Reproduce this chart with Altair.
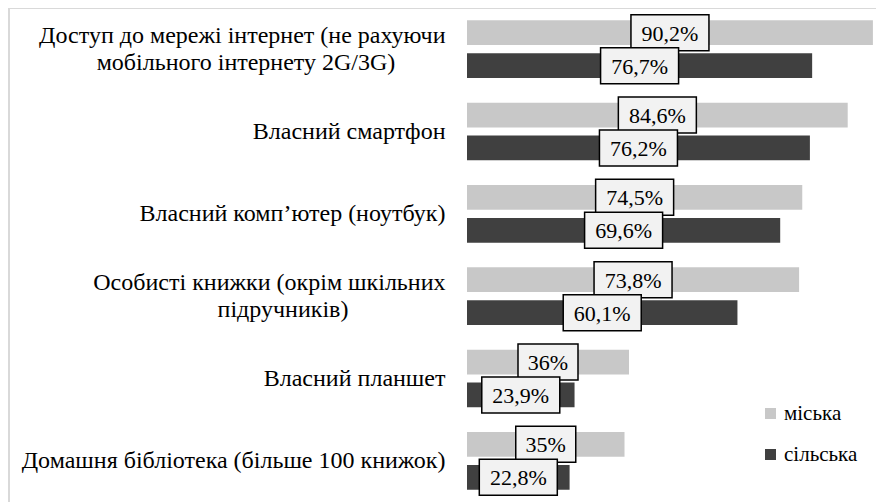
import altair as alt
import pandas as pd

categories = [
    ["Доступ до мережі інтернет (не рахуючи", "мобільного інтернету 2G/3G)"],
    ["Власний смартфон"],
    ["Власний комп’ютер (ноутбук)"],
    ["Особисті книжки (окрім шкільних", "підручників)"],
    ["Власний планшет"],
    ["Домашня бібліотека (більше 100 книжок)"],
]
series = ["міська", "сільська"]
urban = [90.2, 84.6, 74.5, 73.8, 36.0, 35.0]
rural = [76.7, 76.2, 69.6, 60.1, 23.9, 22.8]
urban_labels = ["90,2%", "84,6%", "74,5%", "73,8%", "36%", "35%"]
rural_labels = ["76,7%", "76,2%", "69,6%", "60,1%", "23,9%", "22,8%"]

# horizontal centre (px, relative to the plot's left edge) of wrapped second lines
line2_center = {0: -221, 3: -184}

display = [l[0] for l in categories]

rows = []
for i, cat in enumerate(display):
    for s, vals, labs in ((series[0], urban, urban_labels), (series[1], rural, rural_labels)):
        rows.append({
            "cat": cat,
            "series": s,
            "value": vals[i],
            "half": vals[i] / 2,
            "label": labs[i],
            "box": "long" if len(labs[i]) > 3 else "short",
        })
df = pd.DataFrame(rows)

two_line = [i for i, l in enumerate(categories) if len(l) > 1]
l2_df = pd.DataFrame({
    "cat": [display[i] for i in two_line],
    "line2": [categories[i][1] for i in two_line],
    "xc": [line2_center[i] for i in two_line],
})
two_line_cats = [display[i] for i in two_line]

W, H = 409, 494
PX_PER_UNIT = 4.5
x_scale = alt.Scale(domain=[0, W / PX_PER_UNIT], nice=False, zero=True)
FONT = "Liberation Serif"
CAT_FS = 24
LINE_H = 27

test_expr = " || ".join("datum.value === " + repr(c) for c in two_line_cats)

y_enc = alt.Y(
    "cat:N",
    sort=display,
    scale=alt.Scale(domain=display, paddingInner=0.3, paddingOuter=0.15),
    axis=alt.Axis(
        title=None, domain=False, ticks=False, grid=False,
        labelFont=FONT, labelFontSize=CAT_FS, labelColor="black",
        labelPadding=22, labelLimit=800,
        labelOffset={"condition": {"test": test_expr, "value": -LINE_H / 2}, "value": 0},
    ),
)
yoff = alt.YOffset("series:N", sort=series, scale=alt.Scale(paddingInner=0.25, paddingOuter=0))

base = alt.Chart(df)

bars = base.mark_bar().encode(
    x=alt.X("value:Q", scale=x_scale, axis=None),
    y=y_enc,
    yOffset=yoff,
    color=alt.Color(
        "series:N",
        scale=alt.Scale(domain=series, range=["#c8c8c8", "#404040"]),
        legend=alt.Legend(
            title=None, orient="none", legendX=293, legendY=395,
            symbolType="square", symbolSize=121, symbolStrokeWidth=0,
            labelFont=FONT, labelFontSize=21, labelColor="black",
            rowPadding=19, padding=0, labelOffset=3,
        ),
    ),
)

path_long = "M-39,-18H39V18H-39Z"
path_short = "M-30,-18H30V18H-30Z"

boxes = base.mark_point(
    filled=True, fill="#f2f2f2", stroke="black", strokeWidth=1.5, size=4, opacity=1
).encode(
    x=alt.X("half:Q", scale=x_scale, axis=None),
    y=y_enc,
    yOffset=yoff,
    shape=alt.Shape("box:N", scale=alt.Scale(domain=["long", "short"], range=[path_long, path_short]), legend=None),
)

texts = base.mark_text(
    font=FONT, fontSize=22, color="black", align="center", baseline="middle", dy=1
).encode(
    x=alt.X("half:Q", scale=x_scale, axis=None),
    y=y_enc,
    yOffset=yoff,
    text="label:N",
)

line2 = alt.Chart(l2_df).mark_text(
    font=FONT, fontSize=CAT_FS, color="black", align="center", baseline="middle", dy=LINE_H / 2
).encode(
    x=alt.X("xc:Q", scale=None),
    y=y_enc,
    text="line2:N",
)

frame_df = pd.DataFrame({"a": [0]})
top_rule = alt.Chart(frame_df).mark_rule(color="#d9d9d9", strokeWidth=2).encode(
    x=alt.value(-459), x2=alt.value(W), y=alt.value(0)
)
left_rule = alt.Chart(frame_df).mark_rule(color="#d9d9d9", strokeWidth=2).encode(
    x=alt.value(-458), y=alt.value(0), y2=alt.value(H)
)

chart = alt.layer(bars, boxes, texts, line2, top_rule, left_rule).properties(
    width=W, height=H,
    autosize=alt.AutoSizeParams(type="none"),
    padding={"left": 459, "top": 0, "right": 0, "bottom": 0},
    background="white",
).configure_view(stroke=None)

chart.save("out.html", embed_options={"renderer": "svg", "actions": False})
